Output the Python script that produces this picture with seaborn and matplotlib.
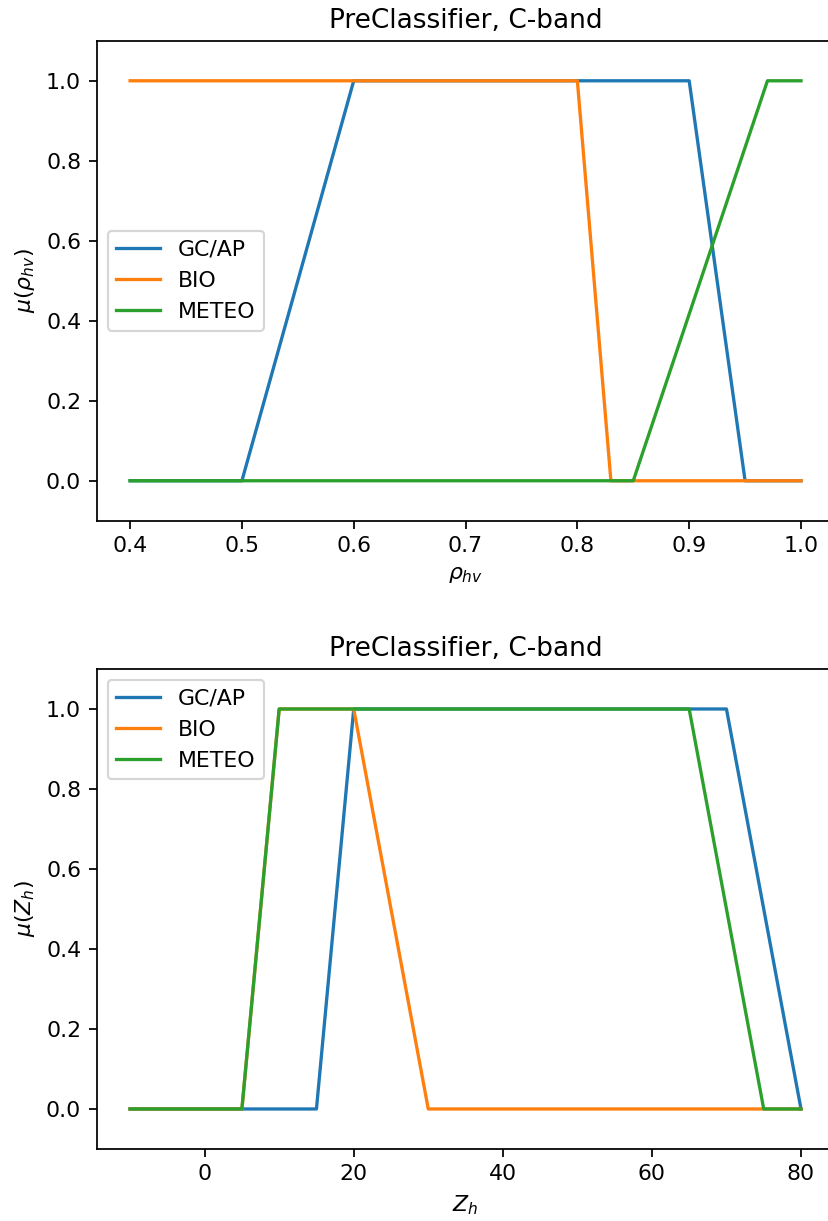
import numpy as np
import pandas as pd
import matplotlib
matplotlib.use("Agg")
import matplotlib.pyplot as plt
import seaborn as sns

# Membership functions of the C-band pre-classifier
classes = ["GC/AP", "BIO", "METEO"]
colors = ["#1f77b4", "#ff7f0e", "#2ca02c"]

# rho_hv memberships
rho_gcap_x = [0.4, 0.5, 0.6, 0.9, 0.95, 1.0]
rho_gcap_y = [0, 0, 1, 1, 0, 0]
rho_bio_x = [0.4, 0.8, 0.83, 1.0]
rho_bio_y = [1, 1, 0, 0]
rho_meteo_x = [0.4, 0.85, 0.97, 1.0]
rho_meteo_y = [0, 0, 1, 1]

# Zh memberships
zh_gcap_x = [-10, 15, 20, 70, 80]
zh_gcap_y = [0, 0, 1, 1, 0]
zh_bio_x = [-10, 5, 10, 20, 30, 80]
zh_bio_y = [0, 0, 1, 1, 0, 0]
zh_meteo_x = [-10, 5, 10, 65, 75, 80]
zh_meteo_y = [0, 0, 1, 1, 0, 0]

DPI = 158
fig = plt.figure(figsize=(828 / DPI, 1221 / DPI), dpi=DPI)
ax1 = fig.add_axes([0.1166, 0.5735, 0.8913, 0.3931])
ax2 = fig.add_axes([0.1166, 0.0590, 0.8913, 0.3931])


def draw(ax, series, xlabel, ylabel, loc):
    for (xs, ys), name, c in zip(series, classes, colors):
        df = pd.DataFrame({"x": xs, "y": ys})
        sns.lineplot(data=df, x="x", y="y", ax=ax, color=c, label=name,
                     estimator=None, sort=False, linewidth=1.5)
    ax.set_ylim(-0.1, 1.1)
    ax.set_xlabel(xlabel)
    ax.set_ylabel(ylabel)
    ax.set_title("PreClassifier, C-band", fontsize=12)
    ax.legend(loc=loc)


draw(ax1,
     [(rho_gcap_x, rho_gcap_y), (rho_bio_x, rho_bio_y), (rho_meteo_x, rho_meteo_y)],
     r"$\rho_{hv}$", r"$\mu(\rho_{hv})$", "center left")
ax1.set_xticks([0.4, 0.5, 0.6, 0.7, 0.8, 0.9, 1.0])
ax1.set_yticks([0.0, 0.2, 0.4, 0.6, 0.8, 1.0])

draw(ax2,
     [(zh_gcap_x, zh_gcap_y), (zh_bio_x, zh_bio_y), (zh_meteo_x, zh_meteo_y)],
     r"$Z_h$", r"$\mu(Z_h)$", "upper left")
ax2.set_xticks([0, 20, 40, 60, 80])
ax2.set_yticks([0.0, 0.2, 0.4, 0.6, 0.8, 1.0])

fig.savefig("out.png", dpi=DPI)
